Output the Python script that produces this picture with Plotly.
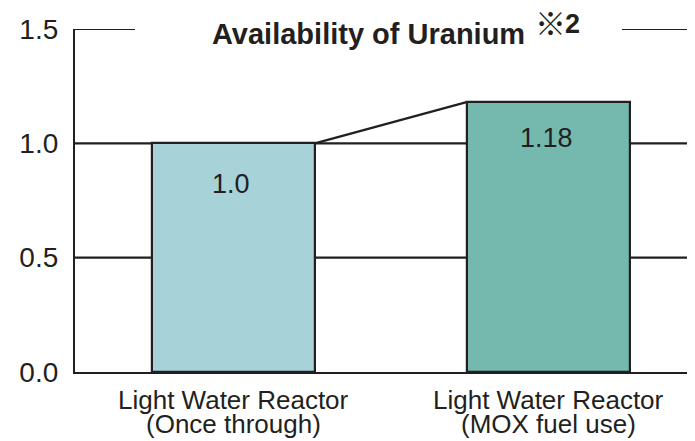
import plotly.graph_objects as go

cat_line1 = ["Light Water Reactor", "Light Water Reactor"]
cat_line2 = ["(Once through)", "(MOX fuel use)"]
values = [1.0, 1.18]
value_labels = ["1.0", "1.18"]
bar_colors = ["#a7d2d7", "#75b8ae"]
y_ticks = [0.0, 0.5, 1.0, 1.5]
y_tick_labels = ["0.0", "0.5", "1.0", "1.5"]
title_main = "Availability of Uranium"
title_mark = "※"
title_num = "2"

INK = "#231f20"
FONT = "Liberation Sans, Arial, Helvetica, sans-serif"
# the page body has an 8px margin; size the figure so it fills the window
OFF = 8
W, H = 695 - OFF, 441 - OFF
PL, PT, PB, PR = 75, 29, 372, 695  # plot area in window pixels
L, T, B = PL - OFF, PT - OFF, (441 - PB)
PW, PH = PR - PL, PB - PT
bar_w = 0.518
xs = list(range(len(values)))


def px_x(p):
    return (p - PL) / PW


def px_y(p):
    return (PB - p) / PH


fig = go.Figure()
fig.add_trace(go.Bar(
    x=xs, y=values, width=bar_w,
    marker=dict(color=bar_colors, line=dict(color=INK, width=2.2)),
    hoverinfo="skip", showlegend=False,
))
# connecting line from top-right of first bar to top-left of second bar
fig.add_trace(go.Scatter(
    x=[xs[0] + bar_w / 2, xs[1] - bar_w / 2], y=[values[0], values[1]],
    mode="lines", line=dict(color=INK, width=2.2),
    hoverinfo="skip", showlegend=False,
))

shapes = []
for yv in [0.5, 1.0]:
    shapes.append(dict(type="line", xref="paper", yref="y", x0=0, x1=1, y0=yv, y1=yv,
                       line=dict(color=INK, width=2.2), layer="below"))
# top gridline, interrupted by the title
for x0, x1 in [(0, px_x(135)), (px_x(622), 1)]:
    shapes.append(dict(type="line", xref="paper", yref="y", x0=x0, x1=x1, y0=1.5, y1=1.5,
                       line=dict(color=INK, width=2.2), layer="below"))

annotations = [
    dict(text=title_main, xref="paper", yref="paper", x=px_x(210), y=px_y(34),
         xanchor="left", yanchor="middle", showarrow=False,
         font=dict(family=FONT, size=29, color=INK, weight="bold")),
    dict(text=title_mark, xref="paper", yref="paper", x=px_x(533), y=px_y(21),
         xanchor="left", yanchor="middle", showarrow=False,
         font=dict(family="Noto Sans CJK JP, " + FONT, size=31, color=INK)),
    dict(text=title_num, xref="paper", yref="paper", x=px_x(563), y=px_y(24),
         xanchor="left", yanchor="middle", showarrow=False,
         font=dict(family=FONT, size=27, color=INK, weight="bold")),
]
shifts = [-41, -36]
for xv, yv, lab, s in zip(xs, values, value_labels, shifts):
    annotations.append(dict(text=lab, x=xv - 0.006, y=yv, xref="x", yref="y", yanchor="middle",
                            yshift=s, showarrow=False,
                            font=dict(family=FONT, size=27, color=INK)))
for xv, l1, l2 in zip(xs, cat_line1, cat_line2):
    annotations.append(dict(text=l1, x=xv, y=0, xref="x", yref="paper", yanchor="top",
                            yshift=-11, showarrow=False,
                            font=dict(family=FONT, size=26, color=INK)))
    annotations.append(dict(text=l2, x=xv, y=0, xref="x", yref="paper", yanchor="top",
                            yshift=-35, showarrow=False,
                            font=dict(family=FONT, size=26, color=INK)))

fig.update_layout(
    width=W, height=H,
    margin=dict(l=L, r=0, t=T, b=B, pad=0),
    paper_bgcolor="white", plot_bgcolor="white",
    shapes=shapes, annotations=annotations,
    font=dict(family=FONT, color=INK),
    xaxis=dict(range=[-0.503, 1.467], tickvals=xs, showticklabels=False,
               showgrid=False, zeroline=False, showline=True, linecolor=INK, linewidth=2.2,
               ticks="", automargin=False),
    yaxis=dict(range=[0, 1.5], tickvals=y_ticks, ticktext=y_tick_labels,
               showgrid=False, zeroline=False, showline=True, linecolor=INK, linewidth=2.2,
               ticks="", tickfont=dict(family=FONT, size=28, color=INK), ticklabelstandoff=9,
               automargin=False),
    bargap=0,
)

fig.write_html("out.html")
